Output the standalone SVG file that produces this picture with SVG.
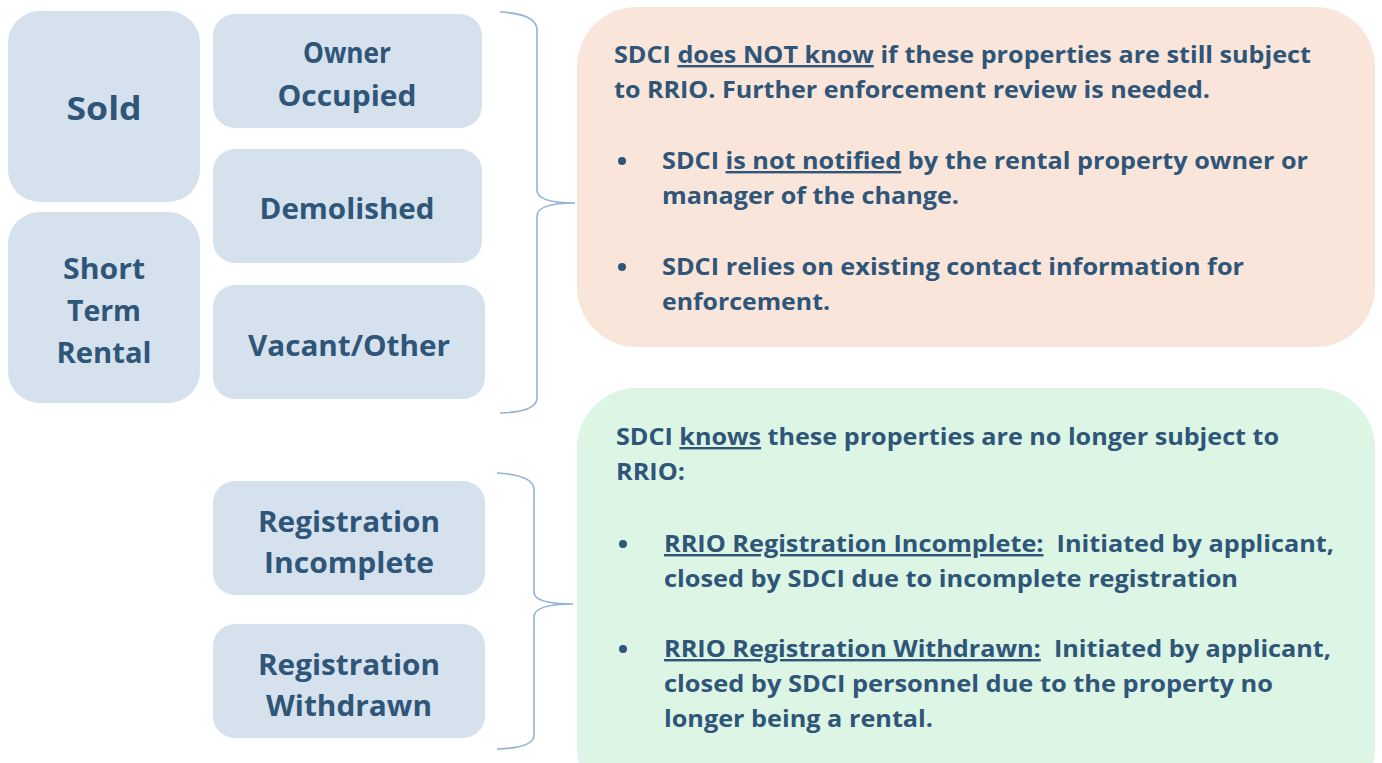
<svg xmlns="http://www.w3.org/2000/svg" width="1382" height="763" viewBox="0 0 1382 763">
<style>
.box{fill:#d5e2ee}
.nt{font-family:"Open Sans","Liberation Sans",sans-serif;font-weight:bold;fill:#2f5578;text-anchor:middle}
.bt{font-family:"Open Sans","Liberation Sans",sans-serif;font-weight:bold;fill:#2f5578;font-size:24px}
.u{text-decoration:underline}
.br{fill:none;stroke:#92b3d4;stroke-width:1.6}
</style>
<rect width="1382" height="763" fill="#ffffff"/>
<g id="connectors">
<path class="br" d="M 500 12 Q 537 14 537 30 L 537 190 Q 537 203 575 203 Q 537 203 537 216 L 537 398 Q 537 412 500 413"/>
<path class="br" d="M 497 473 Q 534 475 534 490 L 534 592 Q 534 604 573 604 Q 534 604 534 617 L 534 735 Q 534 748 497 749"/>
</g>
<g id="sold"><rect class="box" x="8" y="11" width="192" height="191" rx="32"/>
<text class="nt" x="104" y="120" font-size="33" textLength="75" lengthAdjust="spacingAndGlyphs">Sold</text></g>
<g id="short-term-rental"><rect class="box" x="8" y="212" width="192" height="191" rx="32"/>
<text class="nt" x="104" y="279" font-size="29" textLength="82" lengthAdjust="spacingAndGlyphs">Short</text>
<text class="nt" x="104" y="321" font-size="29" textLength="74" lengthAdjust="spacingAndGlyphs">Term</text>
<text class="nt" x="104" y="363" font-size="29" textLength="95" lengthAdjust="spacingAndGlyphs">Rental</text></g>
<g id="owner-occupied"><rect class="box" x="213" y="14" width="269" height="114" rx="22"/>
<text class="nt" x="347" y="63" font-size="29" textLength="88" lengthAdjust="spacingAndGlyphs">Owner</text>
<text class="nt" x="347" y="106" font-size="29" textLength="139" lengthAdjust="spacingAndGlyphs">Occupied</text></g>
<g id="demolished"><rect class="box" x="213" y="149" width="269" height="114" rx="22"/>
<text class="nt" x="347" y="219" font-size="29" textLength="175" lengthAdjust="spacingAndGlyphs">Demolished</text></g>
<g id="vacant-other"><rect class="box" x="213" y="285" width="272" height="114" rx="22"/>
<text class="nt" x="349" y="356" font-size="29" textLength="202" lengthAdjust="spacingAndGlyphs">Vacant/Other</text></g>
<g id="registration-incomplete"><rect class="box" x="213" y="481" width="272" height="114" rx="22"/>
<text class="nt" x="349" y="532" font-size="29" textLength="182" lengthAdjust="spacingAndGlyphs">Registration</text>
<text class="nt" x="349" y="573" font-size="29" textLength="170" lengthAdjust="spacingAndGlyphs">Incomplete</text></g>
<g id="registration-withdrawn"><rect class="box" x="213" y="624" width="272" height="114" rx="22"/>
<text class="nt" x="349" y="675" font-size="29" textLength="182" lengthAdjust="spacingAndGlyphs">Registration</text>
<text class="nt" x="349" y="716" font-size="29" textLength="166" lengthAdjust="spacingAndGlyphs">Withdrawn</text></g>
<g id="unknown-status">
<rect x="577" y="7" width="798" height="340" rx="60" fill="#f9e5da"/>
<text class="bt" x="614" y="63" textLength="697" lengthAdjust="spacingAndGlyphs">SDCI <tspan class="u">does NOT know</tspan> if these properties are still subject</text>
<text class="bt" x="614" y="98" textLength="596" lengthAdjust="spacingAndGlyphs">to RRIO. Further enforcement review is needed.</text>
<circle cx="622" cy="161" r="4" fill="#2f5578"/>
<text class="bt" x="662" y="169" textLength="646" lengthAdjust="spacingAndGlyphs">SDCI <tspan class="u">is not notified</tspan> by the rental property owner or</text>
<text class="bt" x="662" y="204" textLength="297" lengthAdjust="spacingAndGlyphs">manager of the change.</text>
<circle cx="622" cy="267" r="4" fill="#2f5578"/>
<text class="bt" x="662" y="275" textLength="582" lengthAdjust="spacingAndGlyphs">SDCI relies on existing contact information for</text>
<text class="bt" x="662" y="310" textLength="168" lengthAdjust="spacingAndGlyphs">enforcement.</text>
</g>
<g id="known-status">
<rect x="577" y="388" width="798" height="420" rx="60" fill="#dcf5e5"/>
<text class="bt" x="616" y="445" textLength="663" lengthAdjust="spacingAndGlyphs">SDCI <tspan class="u">knows</tspan> these properties are no longer subject to</text>
<text class="bt" x="616" y="480" textLength="69" lengthAdjust="spacingAndGlyphs">RRIO:</text>
<circle cx="623" cy="544" r="4" fill="#2f5578"/>
<text class="bt" x="664" y="552" textLength="670" lengthAdjust="spacingAndGlyphs" xml:space="preserve"><tspan class="u">RRIO Registration Incomplete:</tspan>  Initiated by applicant,</text>
<text class="bt" x="664" y="587" textLength="574" lengthAdjust="spacingAndGlyphs">closed by SDCI due to incomplete registration</text>
<circle cx="623" cy="649" r="4" fill="#2f5578"/>
<text class="bt" x="664" y="657" textLength="667" lengthAdjust="spacingAndGlyphs" xml:space="preserve"><tspan class="u">RRIO Registration Withdrawn:</tspan>  Initiated by applicant,</text>
<text class="bt" x="664" y="692" textLength="609" lengthAdjust="spacingAndGlyphs">closed by SDCI personnel due to the property no</text>
<text class="bt" x="664" y="727" textLength="269" lengthAdjust="spacingAndGlyphs">longer being a rental.</text>
</g>
</svg>
